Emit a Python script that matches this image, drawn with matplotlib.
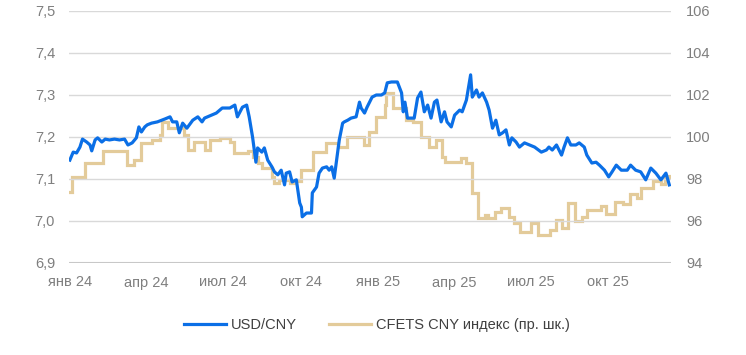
import matplotlib
matplotlib.use("Agg")
import matplotlib.pyplot as plt
import pandas as pd
from matplotlib.ticker import FuncFormatter, MultipleLocator

plt.rcParams['font.family'] = ['Liberation Sans', 'DejaVu Sans']

start_date = "2024-01-01"

usd_day = [0,4,8,12,15,20,24,26,30,33,
           38,42,47,53,59,65,69,74,79,82,
           85,89,92,97,104,113,119,122,127,130,
           134,139,146,152,157,160,168,174,181,190,
           196,199,205,210,213,217,221,223,228,231,
           235,240,243,247,251,255,257,261,264,269,
           273,275,276,281,287,288,293,296,300,305,
           308,311,314,318,320,324,326,330,334,340,
           344,346,350,353,359,364,370,374,377,382,
           389,394,396,398,401,409,413,417,421,425,
           429,433,436,441,445,448,453,457,463,466,
           471,476,478,483,486,490,495,498,502,506,
           510,514,518,522,525,530,534,540,546,552,
           560,566,569,573,578,584,587,591,595,601,
           605,611,614,620,625,629,635,640,644,649,
           655,662,666,672,678,684,690,696,702,708,
           712]
usd_val = [7.145,7.164,7.162,7.176,7.195,7.188,7.181,7.167,7.193,7.198,
           7.188,7.195,7.193,7.195,7.193,7.195,7.181,7.186,7.198,7.224,
           7.212,7.224,7.229,7.233,7.236,7.243,7.248,7.236,7.236,7.210,
           7.233,7.221,7.240,7.248,7.236,7.245,7.252,7.257,7.269,7.269,
           7.276,7.248,7.271,7.276,7.248,7.200,7.140,7.174,7.164,7.174,
           7.145,7.129,7.117,7.110,7.121,7.086,7.114,7.117,7.093,7.098,
           7.043,7.033,7.010,7.019,7.019,7.067,7.081,7.114,7.126,7.129,
           7.121,7.129,7.102,7.162,7.193,7.233,7.236,7.240,7.245,7.248,
           7.283,7.269,7.257,7.271,7.295,7.300,7.300,7.305,7.329,7.331,
           7.331,7.305,7.260,7.283,7.245,7.245,7.293,7.307,7.260,7.276,
           7.245,7.283,7.288,7.236,7.260,7.236,7.224,7.252,7.264,7.260,
           7.288,7.348,7.295,7.312,7.295,7.305,7.283,7.264,7.221,7.240,
           7.205,7.210,7.217,7.181,7.198,7.188,7.176,7.186,7.181,7.176,
           7.164,7.169,7.176,7.169,7.181,7.157,7.176,7.198,7.181,7.181,
           7.186,7.176,7.157,7.138,7.140,7.133,7.121,7.105,7.117,7.133,
           7.121,7.121,7.133,7.121,7.117,7.098,7.126,7.114,7.098,7.114,
           7.086]

cfets_day = [0,2,18,39,68,76,85,98,107,110,
             117,135,140,148,161,167,178,190,195,212,
             217,223,228,240,243,248,261,267,275,289,
             304,319,329,349,355,364,374,376,384,399,
             407,417,427,435,442,446,464,470,478,485,
             493,497,505,512,521,527,535,548,556,570,
             578,585,592,600,608,614,631,637,648,657,
             665,674,678,693,702,707,713]
cfets_val = [97.38,98.10,98.76,99.33,98.67,98.90,99.71,99.86,100.10,100.71,
             100.43,100.10,99.38,99.76,99.38,99.86,99.95,99.76,99.24,99.33,
             99.05,98.76,98.52,98.10,97.81,97.95,97.81,97.90,98.43,99.29,
             99.71,99.52,100.00,99.62,100.24,100.95,101.52,102.10,101.38,100.81,
             100.71,100.00,99.52,99.86,99.05,98.81,99.00,98.76,97.33,96.14,
             96.29,96.14,96.43,96.62,96.19,95.90,95.48,95.90,95.33,95.57,
             96.05,95.67,96.86,96.00,96.19,96.52,96.71,96.33,96.90,96.81,
             97.29,97.10,97.57,97.90,97.76,98.14,98.10]

tick_dates = ["2024-01-01", "2024-04-01", "2024-07-01", "2024-10-01",
              "2025-01-01", "2025-04-01", "2025-07-01", "2025-10-01"]
tick_labels = ["янв 24", "апр 24", "июл 24", "окт 24",
               "янв 25", "апр 25", "июл 25", "окт 25"]

series_names = ["USD/CNY", "CFETS CNY индекс (пр. шк.)"]

BLUE = "#0B6FE6"
BEIGE = "#E3CB9A"
GRID = "#D9D9D9"
TICK = "#7F7F7F"

t0 = pd.Timestamp(start_date)
usd_dates = t0 + pd.to_timedelta(usd_day, unit="D")
cfets_dates = t0 + pd.to_timedelta(cfets_day, unit="D")

fig = plt.figure(figsize=(7.46, 3.55), dpi=100)
ax = fig.add_axes([69/746, 1-263/355, (671-69)/746, (263-11)/355])
ax2 = ax.twinx()

ax.set_zorder(ax2.get_zorder() + 1)
ax.patch.set_visible(False)

ax.set_ylim(6.9, 7.5)
ax2.set_ylim(94, 106)
ax.yaxis.set_major_locator(MultipleLocator(0.1))
ax2.yaxis.set_major_locator(MultipleLocator(2))
ax.yaxis.set_major_formatter(FuncFormatter(lambda v, p: f"{v:.1f}".replace(".", ",")))
ax2.yaxis.set_major_formatter(FuncFormatter(lambda v, p: f"{v:.0f}"))

for a in (ax, ax2):
    for s in a.spines.values():
        s.set_visible(False)

ax2.grid(False)
for yv in [7.0, 7.1, 7.2, 7.3, 7.4, 7.5]:
    ax.axhline(yv, color=GRID, lw=1.0, zorder=0)
ax.axhline(6.9, color="#C8C8C8", lw=1.5, zorder=0)

l2, = ax2.plot(cfets_dates, cfets_val, color=BEIGE, lw=2.3, drawstyle="steps-post",
               solid_joinstyle="miter", label=series_names[1])
l1, = ax.plot(usd_dates, usd_val, color=BLUE, lw=2.3, solid_joinstyle="round",
              label=series_names[0], zorder=3)

ax.set_xlim(t0 - pd.Timedelta(days=1), t0 + pd.Timedelta(days=714))
ax.set_xticks(pd.to_datetime(tick_dates))
ax.set_xticklabels(tick_labels)

ax.tick_params(axis="x", length=0, pad=9, labelsize=10.5, colors=TICK)
ax.tick_params(axis="y", length=0, pad=10, labelsize=10.5, colors=TICK)
ax2.tick_params(axis="y", length=0, pad=11, labelsize=10.5, colors=TICK)

fig.legend([l1, l2], series_names, loc="center", bbox_to_anchor=(0.505, 1-325/355),
           ncol=2, frameon=False, fontsize=10.5, handlelength=2.9, handletextpad=0.3,
           columnspacing=2.2, labelcolor="#404040")

fig.savefig("out.png", dpi=100)
